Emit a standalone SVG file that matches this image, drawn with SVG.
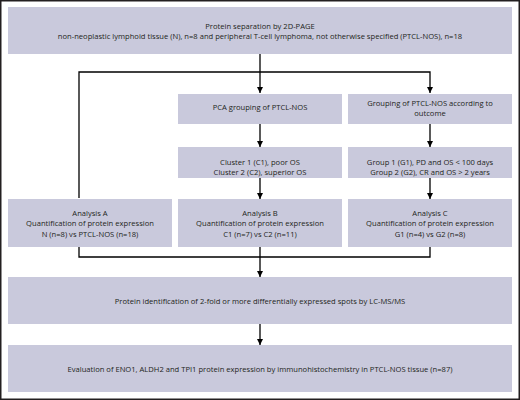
<svg xmlns="http://www.w3.org/2000/svg" width="520" height="400" viewBox="0 0 520 400">
<style>
.box{fill:#c9c9dc;}
text{font-family:"Open Sans","Liberation Sans",sans-serif;font-size:7.6px;fill:#231f20;text-anchor:middle;}
.ln{fill:none;stroke:#000;stroke-width:1.3;}
</style>
<defs>
<marker id="ah" viewBox="0 0 10 10" refX="10" refY="5" markerWidth="6" markerHeight="7" markerUnits="userSpaceOnUse" orient="auto">
<path d="M0,0 L10,5 L0,10 Z" fill="#000"/>
</marker>
</defs>
<rect x="0.75" y="0.75" width="518.5" height="398.5" fill="#fff" stroke="#231f20" stroke-width="1.5"/>
<g id="connectors">
<path class="ln" d="M260,54 V93" marker-end="url(#ah)"/>
<path class="ln" d="M79,198 V72 H430 V93" marker-end="url(#ah)"/>
<path class="ln" d="M260,124 V147" marker-end="url(#ah)"/>
<path class="ln" d="M430,124 V147" marker-end="url(#ah)"/>
<path class="ln" d="M260,178 V199" marker-end="url(#ah)"/>
<path class="ln" d="M430,178 V199" marker-end="url(#ah)"/>
<path class="ln" d="M79,247 V257 H430 V247 M260,247 V277" marker-end="url(#ah)"/>
<path class="ln" d="M260,324 V345" marker-end="url(#ah)"/>
</g>
<g id="n1"><rect class="box" x="8" y="7" width="504" height="47"/>
<text x="260" y="29">Protein separation by 2D-PAGE</text>
<text x="260" y="39">non-neoplastic lymphoid tissue (N), n=8 and peripheral T-cell lymphoma, not otherwise specified (PTCL-NOS), n=18</text></g>
<g id="n2"><rect class="box" x="178" y="94" width="164" height="30"/>
<text x="260" y="110">PCA grouping of PTCL-NOS</text></g>
<g id="n3"><rect class="box" x="348" y="94" width="164" height="30"/>
<text x="430" y="106">Grouping of PTCL-NOS according to</text>
<text x="430" y="116">outcome</text></g>
<g id="n4"><rect class="box" x="178" y="147" width="164" height="31"/>
<text x="260" y="165">Cluster 1 (C1), poor OS</text>
<text x="260" y="175">Cluster 2 (C2), superior OS</text></g>
<g id="n5"><rect class="box" x="348" y="147" width="164" height="31"/>
<text x="430" y="165">Group 1 (G1), PD and OS &lt; 100 days</text>
<text x="430" y="175">Group 2 (G2), CR and OS &gt; 2 years</text></g>
<g id="n6"><rect class="box" x="8" y="199" width="164" height="48"/>
<text x="90" y="216">Analysis A</text>
<text x="90" y="226">Quantification of protein expression</text>
<text x="90" y="237">N (n=8) vs PTCL-NOS (n=18)</text></g>
<g id="n7"><rect class="box" x="178" y="199" width="164" height="48"/>
<text x="260" y="216">Analysis B</text>
<text x="260" y="226">Quantification of protein expression</text>
<text x="260" y="237">C1 (n=7) vs C2 (n=11)</text></g>
<g id="n8"><rect class="box" x="348" y="199" width="164" height="48"/>
<text x="430" y="216">Analysis C</text>
<text x="430" y="226">Quantification of protein expression</text>
<text x="430" y="237">G1 (n=4) vs G2 (n=8)</text></g>
<g id="n9"><rect class="box" x="8" y="277" width="504" height="47"/>
<text x="260" y="304">Protein identification of 2-fold or more differentially expressed spots by LC-MS/MS</text></g>
<g id="n10"><rect class="box" x="8" y="345" width="504" height="47"/>
<text x="260" y="372">Evaluation of ENO1, ALDH2 and TPI1 protein expression by immunohistochemistry in PTCL-NOS tissue (n=87)</text></g>
</svg>
